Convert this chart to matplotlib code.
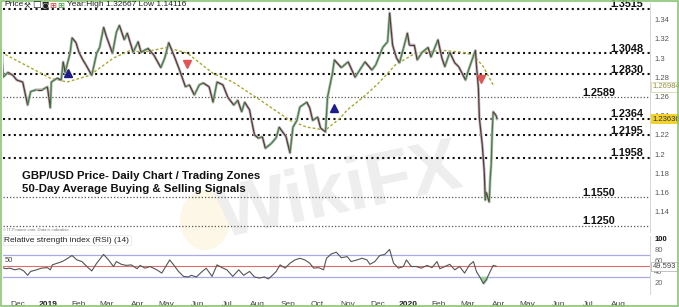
import numpy as np
import pandas as pd
import matplotlib
matplotlib.use("Agg")
import matplotlib.pyplot as plt
import matplotlib.dates as mdates
import matplotlib.transforms as mtransforms
from matplotlib.collections import LineCollection
from matplotlib.patches import Rectangle, Ellipse

plt.rcParams['font.family'] = ['Liberation Sans', 'DejaVu Sans']

# GBP/USD daily closes
price_dates = ["2018-11-15", "2018-11-16", "2018-11-21", "2018-11-26", "2018-11-30", "2018-12-06",
               "2018-12-11", "2018-12-14", "2018-12-20", "2018-12-26", "2018-12-31", "2019-01-03",
               "2019-01-04", "2019-01-10", "2019-01-14", "2019-01-16", "2019-01-18", "2019-01-23",
               "2019-01-25", "2019-01-29", "2019-02-01", "2019-02-05", "2019-02-08", "2019-02-14",
               "2019-02-19", "2019-02-22", "2019-02-26", "2019-03-01", "2019-03-07", "2019-03-11",
               "2019-03-14", "2019-03-19", "2019-03-22", "2019-03-25", "2019-03-28", "2019-04-02",
               "2019-04-05", "2019-04-12", "2019-04-18", "2019-04-25", "2019-04-29", "2019-05-03",
               "2019-05-09", "2019-05-14", "2019-05-20", "2019-05-24", "2019-05-29", "2019-06-03",
               "2019-06-07", "2019-06-13", "2019-06-17", "2019-06-21", "2019-06-27", "2019-07-02",
               "2019-07-08", "2019-07-12", "2019-07-16", "2019-07-19", "2019-07-24", "2019-07-26",
               "2019-07-29", "2019-08-02", "2019-08-06", "2019-08-09", "2019-08-15", "2019-08-20",
               "2019-08-23", "2019-08-30", "2019-09-03", "2019-09-06", "2019-09-10", "2019-09-13",
               "2019-09-20", "2019-09-23", "2019-09-26", "2019-10-01", "2019-10-04", "2019-10-09",
               "2019-10-11", "2019-10-16", "2019-10-18", "2019-10-25", "2019-11-01", "2019-11-08",
               "2019-11-18", "2019-11-25", "2019-11-29", "2019-12-06", "2019-12-11", "2019-12-13",
               "2019-12-16", "2019-12-20", "2019-12-23", "2019-12-27", "2019-12-31", "2020-01-02",
               "2020-01-07", "2020-01-10", "2020-01-15", "2020-01-21", "2020-01-24", "2020-01-31",
               "2020-02-04", "2020-02-07", "2020-02-12", "2020-02-17", "2020-02-21", "2020-02-28",
               "2020-03-02", "2020-03-09", "2020-03-10", "2020-03-12", "2020-03-13", "2020-03-16",
               "2020-03-18", "2020-03-19", "2020-03-20", "2020-03-23", "2020-03-24", "2020-03-25",
               "2020-03-26", "2020-03-27", "2020-03-30", "2020-03-31"]
price_close = [1.305, 1.280, 1.285, 1.282, 1.277, 1.275,
               1.251, 1.265, 1.267, 1.267, 1.270, 1.248,
               1.275, 1.279, 1.277, 1.296, 1.285, 1.305,
               1.321, 1.316, 1.306, 1.298, 1.293, 1.282,
               1.305, 1.311, 1.332, 1.322, 1.305, 1.327,
               1.334, 1.319, 1.326, 1.316, 1.306, 1.317,
               1.306, 1.310, 1.303, 1.290, 1.300, 1.316,
               1.301, 1.2875, 1.270, 1.272, 1.2615, 1.272,
               1.274, 1.270, 1.254, 1.275, 1.272, 1.259,
               1.251, 1.256, 1.244, 1.254, 1.246, 1.235,
               1.220, 1.2165, 1.218, 1.206, 1.211, 1.217,
               1.228, 1.218, 1.201, 1.228, 1.235, 1.249,
               1.254, 1.248, 1.235, 1.2385, 1.227, 1.223,
               1.259, 1.284, 1.298, 1.290, 1.296, 1.280,
               1.296, 1.2875, 1.293, 1.311, 1.317, 1.347,
               1.3135, 1.300, 1.295, 1.310, 1.326, 1.3135,
               1.3135, 1.298, 1.306, 1.311, 1.301, 1.319,
               1.300, 1.291, 1.306, 1.295, 1.291, 1.277,
               1.2875, 1.308, 1.293, 1.269, 1.2375, 1.209,
               1.181, 1.152, 1.160, 1.150, 1.175, 1.189,
               1.223, 1.244, 1.240, 1.2364]

# 50-day moving average
ma_dates = ["2018-11-14", "2019-01-03", "2019-01-20", "2019-02-12", "2019-03-08", "2019-03-25",
            "2019-04-07", "2019-05-01", "2019-05-22", "2019-06-17", "2019-07-07", "2019-08-04",
            "2019-09-03", "2019-09-20", "2019-10-09", "2019-10-24", "2019-10-31", "2019-11-16",
            "2019-12-01", "2019-12-19", "2020-01-08", "2020-02-04", "2020-02-25", "2020-03-07",
            "2020-03-17", "2020-03-27"]
ma_values = [1.306, 1.279, 1.275, 1.282, 1.300, 1.308,
             1.306, 1.311, 1.305, 1.284, 1.275, 1.256,
             1.235, 1.228, 1.225, 1.2375, 1.246, 1.259,
             1.273, 1.293, 1.305, 1.308, 1.306, 1.303,
             1.291, 1.272]

# RSI(14)
rsi_dates = ["2018-11-15", "2018-11-19", "2018-11-23", "2018-11-28", "2018-12-03", "2018-12-07",
             "2018-12-11", "2018-12-14", "2018-12-20", "2018-12-25", "2018-12-31", "2019-01-03",
             "2019-01-05", "2019-01-10", "2019-01-15", "2019-01-18", "2019-01-25", "2019-01-30",
             "2019-02-04", "2019-02-09", "2019-02-14", "2019-02-19", "2019-02-26", "2019-03-03",
             "2019-03-08", "2019-03-11", "2019-03-16", "2019-03-21", "2019-03-26", "2019-04-01",
             "2019-04-04", "2019-04-09", "2019-04-14", "2019-04-21", "2019-04-26", "2019-04-29",
             "2019-05-04", "2019-05-08", "2019-05-13", "2019-05-18", "2019-05-23", "2019-05-26",
             "2019-05-31", "2019-06-06", "2019-06-10", "2019-06-16", "2019-06-21", "2019-06-26",
             "2019-07-01", "2019-07-07", "2019-07-13", "2019-07-18", "2019-07-24", "2019-07-29",
             "2019-08-03", "2019-08-08", "2019-08-12", "2019-08-15", "2019-08-20", "2019-08-24",
             "2019-08-29", "2019-09-03", "2019-09-08", "2019-09-13", "2019-09-18", "2019-09-23",
             "2019-09-27", "2019-10-02", "2019-10-07", "2019-10-10", "2019-10-15", "2019-10-20",
             "2019-10-25", "2019-10-31", "2019-11-04", "2019-11-10", "2019-11-15", "2019-11-20",
             "2019-11-23", "2019-11-28", "2019-12-03", "2019-12-08", "2019-12-13", "2019-12-17",
             "2019-12-22", "2019-12-27", "2019-12-30", "2020-01-04", "2020-01-09", "2020-01-14",
             "2020-01-20", "2020-01-25", "2020-01-30", "2020-02-02", "2020-02-07", "2020-02-12",
             "2020-02-17", "2020-02-22", "2020-02-27", "2020-03-03", "2020-03-07", "2020-03-10",
             "2020-03-14", "2020-03-17", "2020-03-20", "2020-03-24", "2020-03-27", "2020-03-30"]
rsi_values = [47, 45, 46, 43, 45, 41,
              33, 40, 43, 46, 47, 43,
              52, 55, 58, 61, 69, 61,
              58, 49, 41, 55, 71, 61,
              49, 58, 53, 51, 52, 45,
              51, 46, 49, 43, 37, 46,
              61, 52, 40, 31, 30, 33,
              30, 40, 46, 31, 52, 47,
              43, 31, 43, 33, 40, 30,
              28, 30, 26.5, 31, 40, 52,
              46, 55, 61, 64, 61, 55,
              46, 47, 43, 64, 72, 75,
              65, 67, 58, 61, 64, 61,
              53, 58, 69, 71, 80, 55,
              46, 49, 61, 49, 49, 46,
              51, 47, 58, 45, 49, 53,
              43, 49, 37, 52, 58, 40,
              28, 18, 25, 40, 51, 49.6]

levels = [1.3515, 1.3048, 1.2830, 1.2589, 1.2364, 1.2195, 1.1958, 1.1550, 1.1250]
level_bold = [True, True, True, False, True, True, True, False, False]
level_left = [False, False, False, True, False, False, False, True, True]

buy_dates = ["2019-01-21", "2019-10-18"]
buy_prices = [1.284, 1.248]
sell_dates = ["2019-05-22", "2020-03-15"]
sell_prices = [1.2935, 1.278]

price_ticks = [1.14, 1.16, 1.18, 1.20, 1.22, 1.24, 1.26, 1.28, 1.30, 1.32, 1.34]
rsi_ticks = [20, 40, 60, 80, 100]

px = mdates.date2num(pd.to_datetime(price_dates))
pc = np.array(price_close)
rx = pd.to_datetime(rsi_dates)
rv = np.array(rsi_values)

fig = plt.figure(figsize=(6.79, 3.07), dpi=100)
fig.patch.set_facecolor("white")

W, H = 679.0, 307.0

# watermark behind the axes
fig.add_artist(Ellipse((205 / W, 1 - 220 / H), 50 / W, 60 / H, transform=fig.transFigure,
                       fc="#fcf7e6", ec="none", zorder=-6))
fig.text(0.50, 0.37, "WikiFX", fontsize=54, fontweight="bold", color="#eeeeee",
         rotation=12, ha="center", va="center", zorder=-5)

ax1 = fig.add_axes([3 / W, 1 - 232 / H, 647 / W, 229 / H])
ax2 = fig.add_axes([3 / W, 1 - 294 / H, 647 / W, 58 / H], sharex=ax1)
for a in (ax1, ax2):
    a.patch.set_alpha(0)
    for s in a.spines.values():
        s.set_visible(False)
    a.spines["right"].set_visible(True)
    a.spines["right"].set_color("#d0d0d0")
    a.spines["right"].set_linewidth(0.6)

xmin = mdates.date2num(pd.Timestamp("2018-11-16"))
xmax = mdates.date2num(pd.Timestamp("2020-09-02"))
ax1.set_xlim(xmin, xmax)
ax1.set_ylim(1.1188, 1.3573)

# key levels
for lv, bold in zip(levels, level_bold):
    if bold:
        ax1.axhline(lv, color="#111111", lw=1.5, ls=(0, (1, 1.6)), zorder=1)
    else:
        ax1.axhline(lv, color="#555555", lw=0.9, ls=(0, (1, 1.6)), zorder=1)
trans = mtransforms.blended_transform_factory(ax1.transAxes, ax1.transData)
for lv, left in zip(levels, level_left):
    xpos = 0.895 if left else 0.938
    ax1.text(xpos, lv - 0.0003, "%.4f" % lv, transform=trans, fontsize=7.8, fontweight="bold",
             ha="left", va="bottom", color="#111111", zorder=5)

# 50-day average
ax1.plot(pd.to_datetime(ma_dates), ma_values, color="#a8a832", lw=1.0, ls=(0, (2, 1.5)), zorder=2)

# price: grey wicks under coloured up/down segments
ax1.plot(px, pc, color="#bbbbbb", lw=2.0, zorder=3, solid_capstyle="round")
segs = np.stack([np.column_stack([px[:-1], pc[:-1]]), np.column_stack([px[1:], pc[1:]])], axis=1)
cols = ["#3f7f3f" if b > a else "#5a3838" for a, b in zip(pc[:-1], pc[1:])]
ax1.add_collection(LineCollection(segs, colors=cols, linewidths=0.9, zorder=4))

ax1.plot(pd.to_datetime(buy_dates), buy_prices, ls="none", marker="^", ms=6, color="#1c1c8a", zorder=6)
ax1.plot(pd.to_datetime(sell_dates), sell_prices, ls="none", marker="v", ms=5.5, color="#e25555", zorder=6)

ax1.yaxis.tick_right()
ax1.set_yticks(price_ticks)
ax1.set_yticklabels(["%g" % t for t in price_ticks])
ax1.tick_params(axis="y", length=0, pad=3, labelsize=5.5, labelcolor="#555555")
ax1.tick_params(axis="x", bottom=False, labelbottom=False)

# price tags
trans_r = mtransforms.blended_transform_factory(ax1.transAxes, ax1.transData)
ax1.text(1.004, 1.26984, "1.26984", transform=trans_r, fontsize=5.5, color="#8d8d3a", va="center",
         ha="left", bbox=dict(boxstyle="square,pad=0.15", fc="white", ec="#cfcf9a", lw=0.5), zorder=7,
         clip_on=False)
ax1.text(1.004, 1.23636, "1.23636", transform=trans_r, fontsize=5.5, color="#333333", va="center",
         ha="left", bbox=dict(boxstyle="square,pad=0.15", fc="#f3d22e", ec="none"), zorder=7,
         clip_on=False)

ax1.text(0.03, 0.245, "GBP/USD Price- Daily Chart / Trading Zones", transform=ax1.transAxes,
         fontsize=8.2, fontweight="bold", color="#111111", va="center")
ax1.text(0.03, 0.188, "50-Day Average Buying & Selling Signals", transform=ax1.transAxes,
         fontsize=8.2, fontweight="bold", color="#111111", va="center")

# header line
fig.text(4 / W, 1 - 5 / H, "Price", fontsize=6, color="#222222", va="center")
fig.text(24 / W, 1 - 5 / H, "\u2692", fontsize=5.5, color="#333333", va="center", family="DejaVu Sans")
fig.text(32 / W, 1 - 5 / H, "\u25a1", fontsize=6.5, color="#222222", va="center", family="DejaVu Sans")
fig.text(41 / W, 1 - 5 / H, "\u25d9", fontsize=5.5, color="#222222", va="center", family="DejaVu Sans")
fig.text(49 / W, 1 - 5 / H, "\u229e", fontsize=6, color="#d83a3a", va="center", family="DejaVu Sans")
fig.text(57 / W, 1 - 5 / H, "\u229e", fontsize=6, color="#3aa03a", va="center", family="DejaVu Sans")
fig.text(67 / W, 1 - 5 / H, "Year:High 1.32667 Low 1.14116", fontsize=6, color="#222222", va="center")
fig.text(3 / W, 1 - 230 / H, "\u00a9 IT-Finance.com. Data is indicative", fontsize=3, color="#777777",
         va="center")

# RSI panel
ax2.set_ylim(-1, 104.5)
ax2.axhline(70, color="#a9a9e6", lw=0.9, zorder=1)
ax2.axhline(30, color="#a9a9e6", lw=0.9, zorder=1)
ax2.axhline(50, color="#e26b6b", lw=0.8, zorder=1)
ax2.fill_between(rx, rv, 30, where=(rv < 30) & (rx >= pd.Timestamp("2020-03-01")), interpolate=True,
                 color="#9ccf9c", zorder=2)
ax2.plot(rx, rv, color="#555555", lw=0.8, zorder=3)
ax2.yaxis.tick_right()
ax2.set_yticks(rsi_ticks)
ax2.set_yticklabels([str(t) for t in rsi_ticks])
ax2.tick_params(axis="y", length=0, pad=3, labelsize=5.5, labelcolor="#666666")
ax2.get_yticklabels()[-1].set_color("#111111")
ax2.get_yticklabels()[-1].set_fontweight("bold")
trans2 = mtransforms.blended_transform_factory(ax2.transAxes, ax2.transData)
ax2.text(1.004, rv[-1], "49.593", transform=trans2, fontsize=5.5, color="#444444", va="center", ha="left",
         bbox=dict(boxstyle="square,pad=0.15", fc="white", ec="#aaaaaa", lw=0.5), zorder=7, clip_on=False)
ax2.text(0.002, 54, "50", transform=trans2, fontsize=5.5, color="#444444", va="bottom", ha="left")
ax2.text(0.002, 97, "Relative strength index (RSI) (14)", transform=trans2, fontsize=6, color="#222222",
         va="center", ha="left", bbox=dict(boxstyle="square,pad=0.2", fc="white", ec="#dddddd", lw=0.4))

# month ticks
months = pd.date_range("2018-12-01", "2020-08-01", freq="MS")
ax2.set_xticks(months)
labels = [str(m.year) if m.month == 1 else m.strftime("%b") for m in months]
ax2.set_xticklabels(labels)
ax2.tick_params(axis="x", length=0, pad=5, labelsize=6, labelcolor="#444444")
for lab, m in zip(ax2.get_xticklabels(), months):
    if m.month == 1:
        lab.set_fontweight("bold")
        lab.set_color("#222222")

# thin green frame around the widget
fig.add_artist(Rectangle((0.001, 0.003), 0.997, 0.994, transform=fig.transFigure, fill=False,
                         ec="#8cc475", lw=1.2))

fig.savefig("out.png", dpi=100)
